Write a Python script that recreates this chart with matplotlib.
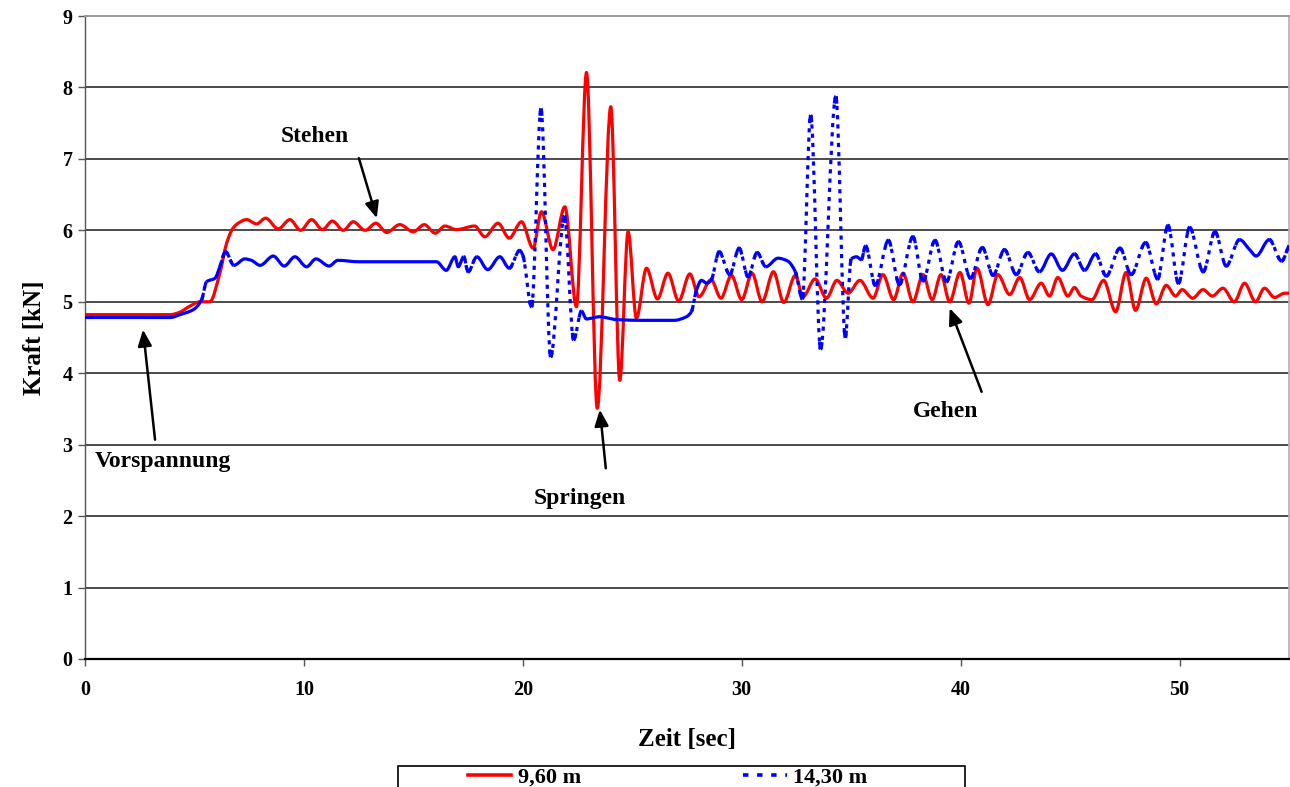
import numpy as np
import matplotlib
matplotlib.use("Agg")
import matplotlib.pyplot as plt
from matplotlib.lines import Line2D
from matplotlib.patches import Rectangle, PathPatch
from matplotlib.path import Path

# ---------------- data ----------------
red_t = [0, 3.9, 4.3, 4.8, 5.25, 5.7, 6.16, 6.47, 6.76, 7.0, 7.38, 7.84, 8.25, 8.83,
         9.36, 9.85, 10.35, 10.85, 11.3, 11.8, 12.25, 12.8, 13.29, 13.78, 14.38, 15.0,
         15.5, 16.0, 16.44, 16.97, 17.8, 18.26, 18.87, 19.38, 19.94, 20.47, 20.85,
         21.38, 21.92, 22.45, 22.91, 23.4, 24.02, 24.43, 24.81, 25.19, 25.65, 26.15,
         26.63, 27.12, 27.63, 28.05, 28.6, 29.05, 29.53, 30.0, 30.47, 30.93, 31.45,
         31.92, 32.45, 32.8, 33.35, 33.87, 34.35, 34.86, 35.4, 36.0, 36.45, 36.94,
         37.37, 37.82, 38.28, 38.7, 39.1, 39.5, 39.97, 40.38, 40.75, 41.25, 41.7,
         42.24, 42.7, 43.15, 43.68, 44.06, 44.44, 44.9, 45.2, 45.5, 46.0, 46.53, 47.08,
         47.56, 47.99, 48.48, 48.94, 49.39, 49.82, 50.12, 50.6, 51.07, 51.5, 51.98,
         52.5, 52.97, 53.47, 53.88, 54.34, 54.8, 55.0]
red_y = [4.82, 4.82, 4.85, 4.94, 5.0, 5.0, 5.4, 5.82, 6.03, 6.10, 6.15, 6.09, 6.17, 6.02,
         6.15, 6.0, 6.15, 6.01, 6.13, 6.0, 6.12, 6.0, 6.10, 5.97, 6.08, 5.98,
         6.08, 5.96, 6.06, 6.01, 6.06, 5.91, 6.10, 5.89, 6.12, 5.75, 6.26,
         5.73, 6.33, 4.93, 8.21, 3.51, 7.73, 3.90, 5.98, 4.77, 5.47, 5.04,
         5.40, 5.01, 5.39, 5.07, 5.31, 5.05, 5.37, 5.03, 5.40, 5.0, 5.42,
         4.99, 5.37, 5.07, 5.32, 5.05, 5.30, 5.12, 5.30, 5.05, 5.38, 5.03,
         5.40, 5.0, 5.38, 5.03, 5.38, 5.0, 5.41, 4.98, 5.47, 4.96, 5.38,
         5.10, 5.34, 5.03, 5.26, 5.08, 5.34, 5.08, 5.20, 5.08, 5.03, 5.30, 4.86,
         5.41, 4.88, 5.33, 4.97, 5.23, 5.08, 5.17, 5.05, 5.17, 5.08, 5.19,
         5.0, 5.26, 5.0, 5.19, 5.06, 5.12, 5.12]

blue_t = [0, 3.9, 4.34, 4.95, 5.33, 5.55, 5.94, 6.16, 6.42, 6.8, 7.3, 7.6, 8.0, 8.6,
          9.1, 9.59, 10.12, 10.55, 11.15, 11.55, 12.5, 14.0, 16.06, 16.5, 16.9, 17.05,
          17.3, 17.5, 17.9, 18.4, 18.95, 19.38, 19.86, 20.0, 20.4, 20.83, 21.27, 21.9,
          22.32, 22.68, 22.9, 23.5, 24.3, 25.5, 26.9, 27.47, 27.7, 27.93, 28.16, 28.4,
          28.6, 28.97, 29.45, 29.88, 30.29, 30.7, 31.1, 31.66, 32.1, 32.45, 32.77,
          33.15, 33.6, 34.3, 34.73, 35.0, 35.24, 35.46, 35.66, 36.1, 36.7, 37.2,
          37.82, 38.28, 38.83, 39.35, 39.9, 40.45, 40.99, 41.48, 42.0, 42.54, 43.07,
          43.6, 44.14, 44.65, 45.2, 45.66, 46.16, 46.65, 47.28, 47.79, 48.45, 49.0,
          49.47, 49.95, 50.46, 51.08, 51.62, 52.13, 52.74, 53.2, 53.5, 54.1, 54.66, 55.0]
blue_y = [4.78, 4.78, 4.82, 4.89, 5.03, 5.28, 5.33, 5.49, 5.70, 5.51, 5.60, 5.58, 5.51, 5.64,
          5.50, 5.63, 5.49, 5.60, 5.50, 5.58, 5.56, 5.56, 5.56, 5.44, 5.63, 5.49,
          5.63, 5.42, 5.63, 5.45, 5.63, 5.47, 5.72, 5.65, 4.93, 7.70, 4.23, 6.20,
          4.47, 4.87, 4.76, 4.79, 4.75, 4.74, 4.74, 4.79, 4.86, 5.16, 5.30, 5.26,
          5.30, 5.70, 5.38, 5.75, 5.35, 5.69, 5.49, 5.61, 5.57, 5.42, 5.04,
          7.61, 4.34, 7.87, 4.50, 5.60, 5.63, 5.59, 5.78, 5.23, 5.86, 5.24,
          5.91, 5.29, 5.86, 5.28, 5.84, 5.33, 5.76, 5.37, 5.73, 5.38, 5.69,
          5.42, 5.67, 5.44, 5.67, 5.44, 5.67, 5.36, 5.75, 5.38, 5.83, 5.32,
          6.07, 5.26, 6.04, 5.42, 5.98, 5.50, 5.87, 5.73, 5.64, 5.87, 5.57, 5.79]

x_ticks = [0, 10, 20, 30, 40, 50]
y_ticks = [0, 1, 2, 3, 4, 5, 6, 7, 8, 9]
series_labels = ["9,60 m", "14,30 m"]
x_title = "Zeit [sec]"
y_title = "Kraft [kN]"


# ---------------- helpers: smooth (monotone cubic) rendering of a series ----------------
def pchip_slopes(x, y):
    h = np.diff(x)
    d = np.diff(y) / h
    m = np.zeros_like(y)
    m[0], m[-1] = d[0], d[-1]
    for k in range(1, len(x) - 1):
        if d[k - 1] * d[k] <= 0:
            m[k] = 0.0
        else:
            w1 = 2 * h[k] + h[k - 1]
            w2 = h[k] + 2 * h[k - 1]
            m[k] = (w1 + w2) / (w1 / d[k - 1] + w2 / d[k])
    return m


def bezier_segments(x, y):
    x = np.asarray(x, float)
    y = np.asarray(y, float)
    m = pchip_slopes(x, y)
    segs = []
    for k in range(len(x) - 1):
        h = x[k + 1] - x[k]
        p0 = (x[k], y[k])
        p1 = (x[k] + h / 3, y[k] + m[k] * h / 3)
        p2 = (x[k + 1] - h / 3, y[k + 1] - m[k + 1] * h / 3)
        p3 = (x[k + 1], y[k + 1])
        segs.append((p0, p1, p2, p3))
    return segs


def run_path(segs):
    verts = [segs[0][0]]
    codes = [Path.MOVETO]
    for s in segs:
        verts += [s[1], s[2], s[3]]
        codes += [Path.CURVE4] * 3
    return Path(verts, codes)


# ---------------- figure ----------------
plt.rcParams["font.family"] = ["Liberation Serif", "DejaVu Serif"]
plt.rcParams["font.weight"] = "bold"

W, H = 1290, 787
RED = "#ff0000"
BLUE = "#0000ff"
LW = 2.3
fig = plt.figure(figsize=(W / 100, H / 100), dpi=100)
ax = fig.add_axes([85 / W, 1 - 659 / H, (1289 - 85) / W, (659 - 16) / H])
ax.set_xlim(0, 55)
ax.set_ylim(0, 9)

for yv in y_ticks[1:-1]:
    ax.axhline(yv, color="#1a1a1a", lw=1.1, zorder=1)

ax.spines["top"].set_color("#9a9a9a")
ax.spines["top"].set_linewidth(1.4)
ax.spines["right"].set_color("#b0b0b0")
ax.spines["right"].set_linewidth(1.2)
ax.spines["left"].set_color("#555555")
ax.spines["left"].set_linewidth(1.0)
ax.spines["bottom"].set_color("black")
ax.spines["bottom"].set_linewidth(1.6)

ax.set_xticks(x_ticks)
ax.set_yticks(y_ticks)
ax.tick_params(axis="both", direction="out", length=5, width=1, color="#555555",
               labelsize=14.5)
ax.tick_params(axis="x", pad=10)
ax.tick_params(axis="y", pad=4)
for lab in ax.get_xticklabels() + ax.get_yticklabels():
    lab.set_fontweight("bold")

ax.set_xlabel(x_title, fontsize=18, fontweight="bold", labelpad=20)
ax.set_ylabel(y_title, fontsize=18, fontweight="bold", labelpad=12)

# red series: solid smooth line
red_segs = bezier_segments(red_t, red_y)
ax.add_patch(PathPatch(run_path(red_segs), fill=False, ec=RED, lw=LW,
                       joinstyle="round", capstyle="round", zorder=3))

# blue series: Excel-like dotted line (shallow parts look solid, steep flanks dotted)
blue_segs = bezier_segments(blue_t, blue_y)
pix = ax.transData.transform(np.column_stack([blue_t, blue_y]))
dxp = np.abs(np.diff(pix[:, 0]))
dyp = np.abs(np.diff(pix[:, 1]))
dotted = (dyp > 1.6 * dxp) & (np.hypot(dxp, dyp) > 14)

run = []
for i, seg in enumerate(blue_segs):
    if not dotted[i]:
        run.append(seg)
        continue
    if run:
        ax.add_patch(PathPatch(run_path(run), fill=False, ec=BLUE, lw=LW,
                               joinstyle="round", capstyle="butt", zorder=4))
        run = []
    fwd = run_path([seg])
    rev = run_path([(seg[3], seg[2], seg[1], seg[0])])
    ax.add_patch(PathPatch(fwd, fill=False, ec=BLUE, lw=LW, capstyle="butt",
                           linestyle=(0, (1.3, 1.6)), zorder=4))
    for p in (fwd, rev):
        ax.add_patch(PathPatch(p, fill=False, ec=BLUE, lw=LW, capstyle="butt",
                               linestyle=(0, (2.2, 400)), zorder=4))
if run:
    ax.add_patch(PathPatch(run_path(run), fill=False, ec=BLUE, lw=LW,
                           joinstyle="round", capstyle="butt", zorder=4))

# annotations
arrow_kw = dict(arrowstyle="-|>,head_length=0.7,head_width=0.3", color="black",
                lw=1.8, shrinkA=0, shrinkB=0, mutation_scale=14)
notes = [
    ("Stehen", (10.5, 7.31), (12.51, 7.01), (13.33, 6.17)),
    ("Vorspannung", (3.56, 2.76), (3.2, 3.07), (2.65, 4.61)),
    ("Springen", (22.6, 2.25), (23.79, 2.67), (23.52, 3.49)),
    ("Gehen", (39.3, 3.46), (40.96, 3.74), (39.5, 4.91)),
]
for txt, tpos, tail, head in notes:
    ax.text(tpos[0], tpos[1], txt, ha="center", va="center", fontsize=17,
            fontweight="bold", zorder=6)
    ax.annotate("", xy=head, xytext=tail, arrowprops=arrow_kw, zorder=6)

# legend (box cut off at the bottom edge, as in the reference)
fig.add_artist(Rectangle((398 / W, 1 - 805 / H), (965 - 398) / W, 39 / H,
                         transform=fig.transFigure, fill=False, ec="black",
                         lw=1.2, clip_on=False))
h_red = Line2D([], [], color=RED, lw=2.6)
h_blue = Line2D([], [], color=BLUE, lw=2.6, linestyle=(0, (1.5, 2.4)),
                dash_capstyle="butt")
fig.legend([h_red, h_blue], series_labels, loc="upper left",
           bbox_to_anchor=(468 / W, 1 - 767 / H), ncol=2, frameon=False,
           borderpad=0, borderaxespad=0, handlelength=1.95, handletextpad=0.3,
           columnspacing=7.3, prop={"size": 16, "weight": "bold"})

fig.savefig("out.png", dpi=100)
